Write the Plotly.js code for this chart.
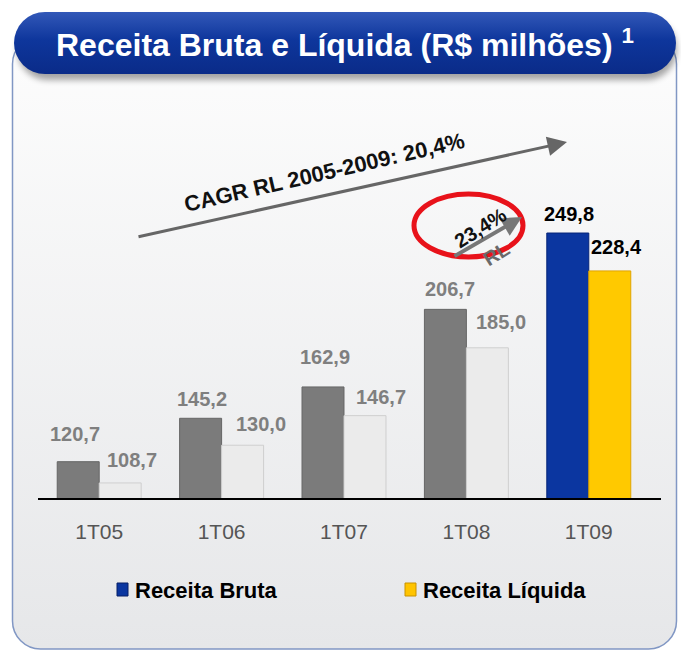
<!DOCTYPE html>
<html>
<head>
<meta charset="utf-8">
<script src="https://cdn.plot.ly/plotly-3.0.1.min.js"></script>
<style>html,body{margin:0;padding:0;background:#fff;}#chart{width:681px;height:655px;}</style>
</head>
<body>
<div id="chart"></div>
<script>
// ---- data ----
const categories = ['1T05', '1T06', '1T07', '1T08', '1T09'];
const receitaBruta = [120.7, 145.2, 162.9, 206.7, 249.8];
const receitaLiquida = [108.7, 130.0, 146.7, 185.0, 228.4];
const seriesNames = ['Receita Bruta', 'Receita Líquida'];
const cagrText = 'CAGR RL 2005-2009: 20,4%';
const growthText = '23,4%';

// ---- helpers ----
const W = 681, H = 655;
const px = x => x / W;
const py = y => 1 - y / H;
const fmt = v => v.toFixed(1).replace('.', ',');
const FONT = '"Liberation Sans", Arial, sans-serif';

const brutaColors = ['#7b7b7b', '#7b7b7b', '#7b7b7b', '#7b7b7b', '#0b36a0'];
const brutaLines = ['#666666', '#666666', '#666666', '#666666', '#062578'];
const liqColors = ['#ebebeb', '#ebebeb', '#ebebeb', '#ebebeb', '#ffc900'];
const liqLines = ['#cfcfcf', '#cfcfcf', '#cfcfcf', '#cfcfcf', '#e0a400'];
const labelColors = ['#7f7f7f', '#7f7f7f', '#7f7f7f', '#7f7f7f', '#000000'];

// label placement (style)
const brutaDx = [-24, -20, -19, -16, -20];
const brutaDy = [28, 19, 30, 20, 19];
const liqDx = [33, 39, 37, 35, 28];
const liqDy = [23, 21, 19, 26, 24];

const traces = [
  {
    type: 'bar', name: seriesNames[0], x: categories, y: receitaBruta,
    marker: {color: brutaColors, line: {color: brutaLines, width: 1}},
    hoverinfo: 'skip', showlegend: false
  },
  {
    type: 'bar', name: seriesNames[1], x: categories, y: receitaLiquida,
    marker: {color: liqColors, line: {color: liqLines, width: 1}},
    hoverinfo: 'skip', showlegend: false
  }
];

const annotations = [];
categories.forEach((c, i) => {
  annotations.push({
    x: c, y: receitaBruta[i], xref: 'x', yref: 'y', text: '<b>' + fmt(receitaBruta[i]) + '</b>',
    showarrow: false, xshift: brutaDx[i], yshift: brutaDy[i], xanchor: 'center', yanchor: 'middle',
    font: {family: FONT, size: 20, color: labelColors[i]}
  });
  annotations.push({
    x: c, y: receitaLiquida[i], xref: 'x', yref: 'y', text: '<b>' + fmt(receitaLiquida[i]) + '</b>',
    showarrow: false, xshift: liqDx[i], yshift: liqDy[i], xanchor: 'center', yanchor: 'middle',
    font: {family: FONT, size: 20, color: labelColors[i]}
  });
});

// title
annotations.push({
  xref: 'paper', yref: 'paper', x: px(345), y: py(43), xanchor: 'center', yanchor: 'middle',
  text: '<b>Receita Bruta e Líquida (R$ milhões) <sup>1</sup></b>', showarrow: false,
  font: {family: FONT, size: 32, color: '#ffffff'}
});
// big CAGR arrow
annotations.push({
  xref: 'paper', yref: 'paper', x: px(567), y: py(142), text: '', showarrow: true,
  ax: -430, ay: 95, arrowhead: 2, arrowsize: 1.3, arrowwidth: 3, arrowcolor: '#666666'
});
annotations.push({
  xref: 'paper', yref: 'paper', x: px(324), y: py(173), xanchor: 'center', yanchor: 'middle',
  text: '<b>' + cagrText + '</b>',
  showarrow: false, textangle: -13, font: {family: FONT, size: 22, color: '#111111'}
});
// small RL arrow
annotations.push({
  xref: 'paper', yref: 'paper', x: px(522), y: py(217), text: '', showarrow: true,
  ax: -69, ay: 40, arrowhead: 2, arrowsize: 1, arrowwidth: 4, arrowcolor: '#777777'
});
annotations.push({
  xref: 'paper', yref: 'paper', x: px(480), y: py(228), xanchor: 'center', yanchor: 'middle',
  text: '<b>' + growthText + '</b>',
  showarrow: false, textangle: -32, font: {family: FONT, size: 20, color: '#111111'}
});
annotations.push({
  xref: 'paper', yref: 'paper', x: px(496), y: py(254), xanchor: 'center', yanchor: 'middle',
  text: '<b>RL</b>',
  showarrow: false, textangle: -32, font: {family: FONT, size: 20, color: '#6a6a6a'}
});
// legend text
annotations.push({
  xref: 'paper', yref: 'paper', x: px(133), y: py(590), xanchor: 'left', yanchor: 'middle',
  text: '<b>' + seriesNames[0] + '</b>', showarrow: false, font: {family: FONT, size: 22, color: '#000'}
});
annotations.push({
  xref: 'paper', yref: 'paper', x: px(421), y: py(590), xanchor: 'left', yanchor: 'middle',
  text: '<b>' + seriesNames[1] + '</b>', showarrow: false, font: {family: FONT, size: 22, color: '#000'}
});

const shapes = [
  // red ellipse
  {type: 'circle', xref: 'paper', yref: 'paper', x0: px(414), x1: px(523), y0: py(257), y1: py(194),
   line: {color: '#e8121a', width: 5}},
  // legend swatches
  {type: 'rect', xref: 'paper', yref: 'paper', x0: px(117), x1: px(128), y0: py(596), y1: py(583),
   fillcolor: '#0b36a0', line: {color: '#061f66', width: 1}},
  {type: 'rect', xref: 'paper', yref: 'paper', x0: px(405), x1: px(416), y0: py(596), y1: py(583),
   fillcolor: '#ffc400', line: {color: '#c99200', width: 1}}
];

const svg = `<svg xmlns="http://www.w3.org/2000/svg" width="${W}" height="${H}" viewBox="0 0 ${W} ${H}">
<defs>
<linearGradient id="p" x1="0" y1="0" x2="0" y2="1"><stop offset="0" stop-color="#fdfdfd"/><stop offset="1" stop-color="#e6e7e9"/></linearGradient>
<linearGradient id="b" x1="0" y1="0" x2="0" y2="1"><stop offset="0" stop-color="#3258b8"/><stop offset="0.45" stop-color="#0e369c"/><stop offset="1" stop-color="#0a2b88"/></linearGradient>
<filter id="s" x="-10%" y="-30%" width="120%" height="160%"><feGaussianBlur stdDeviation="3"/></filter>
</defs>
<rect x="12.5" y="36" width="664" height="613" rx="28" ry="28" fill="url(#p)" stroke="#8197c4" stroke-width="1.5"/>
<rect x="17" y="18" width="660" height="62" rx="31" ry="31" fill="#000" opacity="0.35" filter="url(#s)"/>
<rect x="14" y="12" width="662" height="62" rx="31" ry="31" fill="url(#b)"/>
</svg>`;

const layout = {
  width: W, height: H,
  margin: {l: 0, r: 0, t: 0, b: 0, pad: 0},
  paper_bgcolor: '#ffffff', plot_bgcolor: 'rgba(0,0,0,0)',
  showlegend: false,
  barmode: 'group', bargap: 0.314, bargroupgap: 0,
  xaxis: {
    domain: [px(38), px(661)], range: [-0.5, 4.59], type: 'category',
    showgrid: false, zeroline: false, showline: true, linecolor: '#000000', linewidth: 1.5,
    ticks: '', ticklabelstandoff: 14,
    tickfont: {family: FONT, size: 21, color: '#555555'}, fixedrange: true
  },
  yaxis: {
    domain: [py(498), py(100)], range: [100.2, 324.9],
    showgrid: false, zeroline: false, showline: false, showticklabels: false, ticks: '', fixedrange: true
  },
  images: [{
    source: 'data:image/svg+xml;charset=utf-8,' + encodeURIComponent(svg),
    xref: 'paper', yref: 'paper', x: 0, y: 1, sizex: 1, sizey: 1,
    xanchor: 'left', yanchor: 'top', sizing: 'stretch', layer: 'below'
  }],
  annotations: annotations,
  shapes: shapes
};

Plotly.newPlot('chart', traces, layout, {displayModeBar: false, staticPlot: true});
</script>
</body>
</html>
